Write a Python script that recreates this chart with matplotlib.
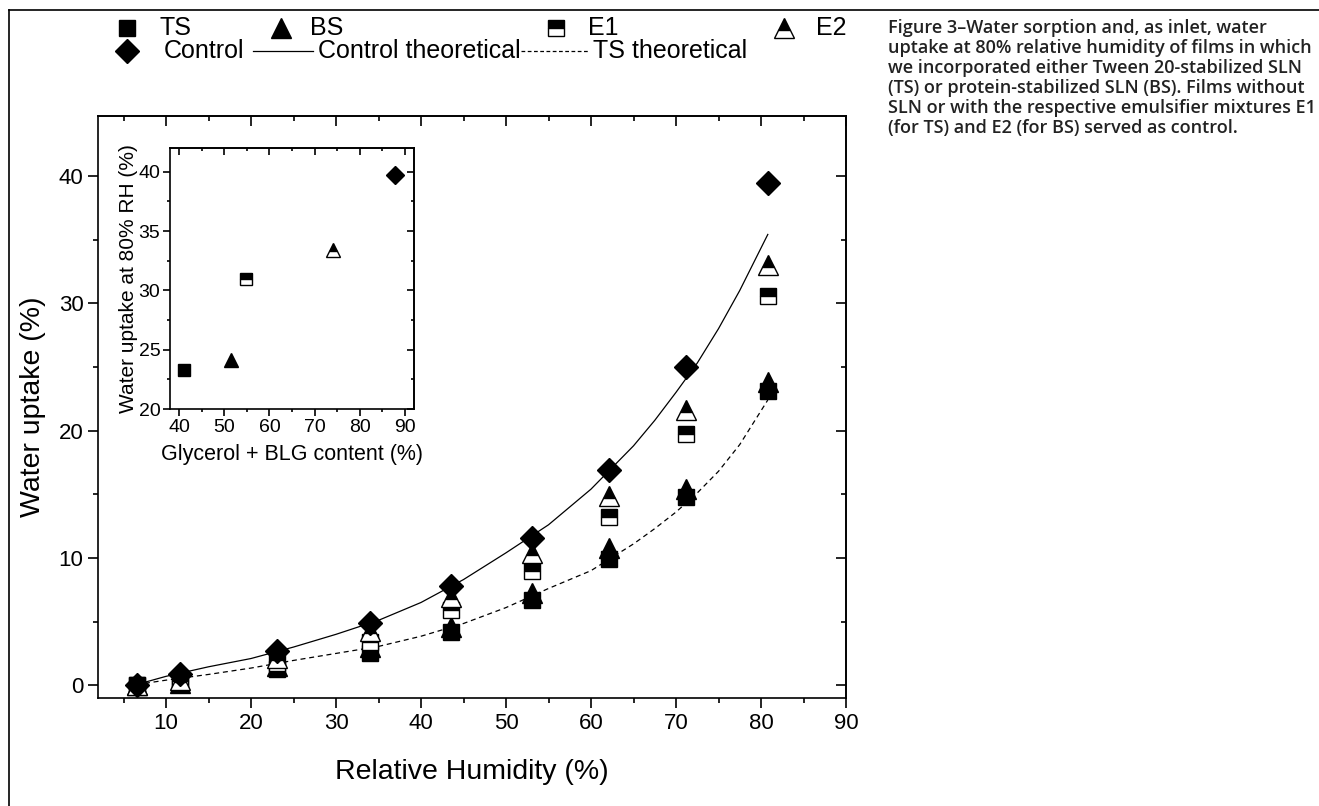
import matplotlib
matplotlib.use("Agg")
import matplotlib.pyplot as plt
from matplotlib.lines import Line2D
from matplotlib.ticker import MultipleLocator

plt.rcParams['font.family'] = ['Liberation Sans', 'DejaVu Sans']

# main plot: water uptake vs relative humidity
rh = [6.6, 11.6, 23.1, 34.0, 43.5, 53.0, 62.1, 71.2, 80.8]
ts = [0.0, 0.15, 1.25, 2.55, 4.2, 6.7, 9.9, 14.8, 23.1]
bs = [0.0, 0.2, 1.5, 3.0, 4.6, 7.25, 10.8, 15.4, 23.8]
e1 = [0.0, 0.3, 1.75, 3.4, 5.9, 8.95, 13.2, 19.75, 30.6]
e2 = [0.0, 0.4, 2.15, 4.3, 6.9, 10.4, 14.9, 21.6, 33.0]
control = [0.05, 0.9, 2.7, 4.9, 7.8, 11.6, 16.9, 25.0, 39.4]

# theoretical curves
rh_theo = [6.5, 10, 15, 20, 25, 30, 35, 40, 45, 50, 55, 60, 65, 67.5, 70, 72.5, 75, 77.5, 80.8]
control_theo = [0.05, 0.7, 1.45, 2.1, 3.0, 4.0, 5.1, 6.5, 8.3, 10.4, 12.6, 15.4, 18.8, 20.8, 23.0,
                25.3, 28.0, 31.0, 35.4]
ts_theo = [0.05, 0.4, 0.85, 1.35, 1.95, 2.5, 3.05, 3.85, 4.85, 6.1, 7.6, 9.0, 11.1, 12.3, 13.6,
           15.1, 16.8, 18.9, 22.4]

# inset: uptake at 80% RH vs glycerol + BLG content (TS, BS, E1, E2, Control)
content = [41.2, 51.4, 54.8, 74.1, 87.7]
uptake80 = [23.25, 24.1, 31.0, 33.4, 39.7]

caption = ("Figure 3\u2013Water sorption and, as inlet, water\n"
           "uptake at 80% relative humidity of films in which\n"
           "we incorporated either Tween 20-stabilized SLN\n"
           "(TS) or protein-stabilized SLN (BS). Films without\n"
           "SLN or with the respective emulsifier mixtures E1\n"
           "(for TS) and E2 (for BS) served as control.")

W, H = 1319, 806
fig = plt.figure(figsize=(W / 100, H / 100), dpi=100)

# marker styles per series
sty = {
    'TS': dict(marker='s', ms=11.5, mfc='black', mec='black'),
    'BS': dict(marker='^', ms=14, mfc='black', mec='black'),
    'E1': dict(marker='s', ms=11.5, mfc='black', mfcalt='white', fillstyle='top', mec='black'),
    'E2': dict(marker='^', ms=14, mfc='black', mfcalt='white', fillstyle='top', mec='black'),
    'Control': dict(marker='D', ms=12, mfc='black', mec='black'),
}


def style_axes(ax, major_len, minor_len, xmaj, xmin, ymaj, ymin):
    for s in ax.spines.values():
        s.set_linewidth(1.2)
    ax.xaxis.set_major_locator(MultipleLocator(xmaj))
    ax.xaxis.set_minor_locator(MultipleLocator(xmin))
    ax.yaxis.set_major_locator(MultipleLocator(ymaj))
    ax.yaxis.set_minor_locator(MultipleLocator(ymin))
    ax.tick_params(which='both', direction='out', width=1.2)
    ax.tick_params(which='major', length=major_len)
    ax.tick_params(which='minor', length=minor_len)
    # top and right ticks point inwards, no labels
    top = ax.secondary_xaxis('top')
    right = ax.secondary_yaxis('right')
    for sec, axis in ((top, top.xaxis), (right, right.yaxis)):
        axis.set_major_locator(MultipleLocator(xmaj if sec is top else ymaj))
        axis.set_minor_locator(MultipleLocator(xmin if sec is top else ymin))
        sec.tick_params(which='both', direction='in', width=1.2, labeltop=False, labelright=False)
        sec.tick_params(which='major', length=major_len)
        sec.tick_params(which='minor', length=minor_len)
        for s in sec.spines.values():
            s.set_linewidth(1.2)


# main axes
ax = fig.add_axes([98 / W, 1 - 698 / H, (846 - 98) / W, (698 - 116) / H])
ax.plot(rh_theo, control_theo, color='black', lw=0.9, zorder=2)
ax.plot(rh_theo, ts_theo, color='black', lw=0.9, ls=(0, (4, 3)), zorder=2)
for name, vals in (('TS', ts), ('BS', bs), ('E1', e1), ('E2', e2), ('Control', control)):
    ax.plot(rh, vals, ls='none', mew=1.0, zorder=3, **sty[name])
ax.set_xlim(2, 90)
ax.set_ylim(-1, 44.7)
style_axes(ax, 7, 3.5, 10, 5, 10, 5)
ax.tick_params(labelsize=16)
ax.set_xlabel('Relative Humidity (%)', fontsize=20.5, labelpad=18)
ax.set_ylabel('Water uptake (%)', fontsize=20.5, labelpad=9)

# inset
ins = fig.add_axes([170 / W, 1 - 409 / H, (414 - 170) / W, (409 - 148) / H])
names = ['TS', 'BS', 'E1', 'E2', 'Control']
small = {'TS': 8.5, 'BS': 10.5, 'E1': 8.5, 'E2': 10.5, 'Control': 9.5}
for i, name in enumerate(names):
    st = dict(sty[name])
    st['ms'] = small[name]
    ins.plot([content[i]], [uptake80[i]], ls='none', mew=1.0, **st)
ins.set_xlim(38, 92)
ins.set_ylim(20, 42)
style_axes(ins, 5, 2.5, 10, 5, 5, 2.5)
ins.tick_params(labelsize=14, pad=2)
ins.set_xlabel('Glycerol + BLG content (%)', fontsize=15.5, labelpad=6)
ins.set_ylabel('Water uptake at 80% RH (%)', fontsize=15, labelpad=0)

# legend laid out like the original (two free rows above the plot)
row1, row2 = 1 - 28 / H, 1 - 51 / H
entries = [
    ('TS', 127, 159, row1), ('BS', 281, 310, row1), ('E1', 556, 588, row1), ('E2', 784, 816, row1),
    ('Control', 127, 164, row2),
]
for name, xp, xt, yp in entries:
    st = dict(sty[name])
    fig.add_artist(Line2D([xp / W], [yp], transform=fig.transFigure, ls='none', mew=1.0, **st))
    fig.text(xt / W, yp, name, fontsize=18, va='center', ha='left')
fig.add_artist(Line2D([253 / W, 313 / W], [row2, row2], transform=fig.transFigure, color='black', lw=0.9))
fig.text(318 / W, row2, 'Control theoretical', fontsize=18, va='center', ha='left')
fig.add_artist(Line2D([521 / W, 588 / W], [row2, row2], transform=fig.transFigure, color='black', lw=0.9,
                      ls=(0, (3, 2))))
fig.text(593 / W, row2, 'TS theoretical', fontsize=18, va='center', ha='left')

# caption on the right
fig.text(888 / W, 1 - 19 / H, caption, fontsize=13, va='top', ha='left',
         family=['Open Sans', 'DejaVu Sans'], weight='semibold', linespacing=1.15, color='#222222')

# page frame (left and top edges)
fig.add_artist(Line2D([9 / W, 9 / W], [0, 1 - 10 / H], transform=fig.transFigure, color='black', lw=1.2))
fig.add_artist(Line2D([9 / W, 1], [1 - 10 / H, 1 - 10 / H], transform=fig.transFigure, color='black', lw=1.2))

fig.savefig('out.png', dpi=100)
